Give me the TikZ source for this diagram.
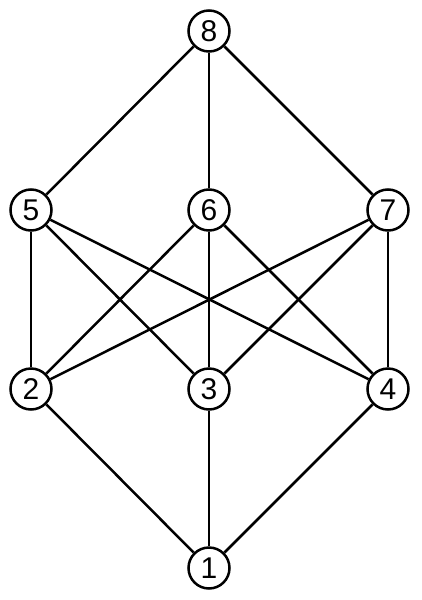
\documentclass[tikz,border=0pt]{standalone}
\usepackage{fontspec}
\setmainfont{Liberation Sans}
\usetikzlibrary{positioning}

\tikzset{elem/.style={circle,draw,line width=2.5pt,minimum size=41pt,inner sep=0pt,font=\fontsize{30}{30}\selectfont}}

\begin{document}
\begin{tikzpicture}[line width=2.5pt,node distance=179pt,on grid]
   \useasboundingbox (-209pt,31pt) rectangle (212pt,-569pt);
   \node[elem] (e8) {8};
   \node[elem] (e6) [below=of e8] {6};
   \node[elem] (e5) [left=of e6, xshift=1pt] {5};
   \node[elem] (e7) [right=of e6] {7};
   \node[elem] (e3) [below=of e6] {3};
   \node[elem] (e2) [left=of e3, xshift=1pt] {2};
   \node[elem] (e4) [right=of e3] {4};
   \node[elem] (e1) [below=of e3] {1};
    \path 
    (e8) edge (e5)
         edge (e6)
         edge (e7)
    (e5) edge (e2)
         edge (e3)
         edge (e4)
    (e6) edge (e2)
         edge (e3)
         edge (e4)
    (e7) edge (e2)
         edge (e3)
         edge (e4)
    (e1) edge (e2)
         edge (e3)
         edge (e4);
\end{tikzpicture}
\end{document}
